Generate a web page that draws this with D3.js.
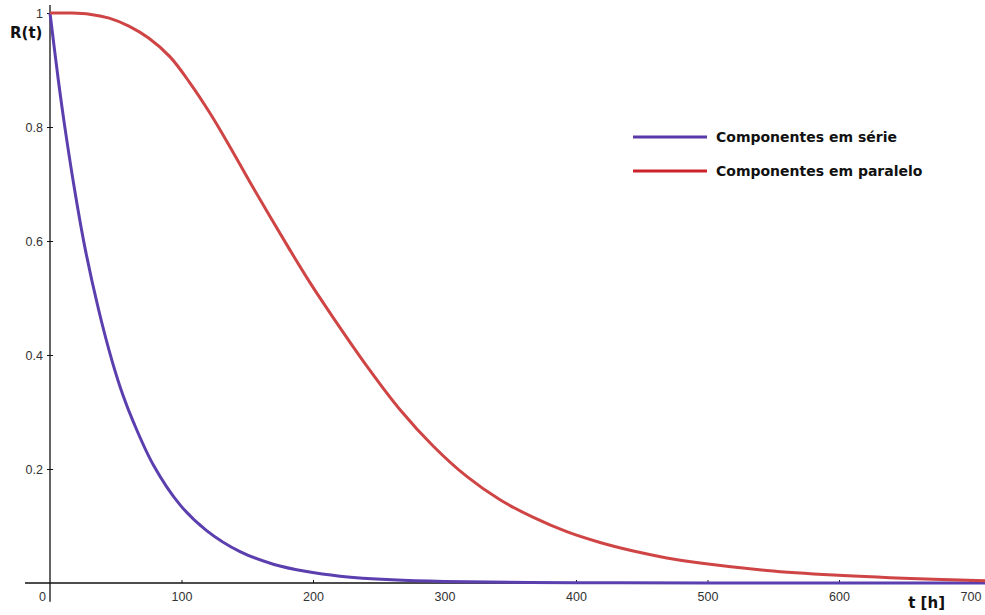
<!DOCTYPE html>
<meta charset='utf-8'>
<style>
  body { margin: 0; background: #fff; }
  .tick text { fill: #333; font-family: 'Liberation Sans', Arial, sans-serif; font-size: 12.5px; }
  .axisLabel { font-family: 'DejaVu Sans', sans-serif; font-weight: bold; font-size: 15px; fill: #111; }
  .legendText { font-family: 'DejaVu Sans', sans-serif; font-weight: bold; font-size: 14px; fill: #111; }
</style>
<body>
<div id='viz'></div>
<script src='https://d3js.org/d3.v7.min.js'></script>
<script>

// values
var serieT = [0, 6.3, 11.4, 19, 26.6, 36.7, 46.9, 55.7, 63.3, 78.6, 98.9, 119.1, 144.5, 169.8, 195.2, 220.5, 260, 300, 400, 500, 711];
var serieR = [1, 0.883, 0.798, 0.686, 0.588, 0.482, 0.392, 0.328, 0.283, 0.207, 0.137, 0.092, 0.055, 0.033, 0.020, 0.012, 0.0055, 0.0025, 0.0005, 0.0001, 0];

var paraleloT = [0, 15, 30, 45, 60, 75, 91.3, 106.5, 121.7, 136.9, 152.1, 167.3, 182.5, 197.7, 212.9, 240.8, 266.2, 291.5, 316.9, 342.2, 367.6, 392.9, 418.3, 443.6, 469, 494.3, 545, 595.7, 671.7, 711];
var paraleloR = [1, 1, 0.998, 0.991, 0.977, 0.956, 0.923, 0.877, 0.824, 0.765, 0.703, 0.643, 0.584, 0.527, 0.474, 0.381, 0.304, 0.240, 0.187, 0.146, 0.115, 0.090, 0.071, 0.056, 0.044, 0.035, 0.022, 0.014, 0.0065, 0.004];

var xTicks = [0, 100, 200, 300, 400, 500, 600, 700];
var yTicks = [0.2, 0.4, 0.6, 0.8, 1];
var seriesNames = ['Componentes em série', 'Componentes em paralelo'];
var seriesColors = ['#5b3fae', '#cf4444'];

var width = 985, height = 615;

var x = d3.scaleLinear().domain([0, 711]).range([50, 985]);
var y = d3.scaleLinear().domain([0, 1]).range([583, 13]);

var svg = d3.select('#viz').append('svg')
    .attr('width', width)
    .attr('height', height);

// axis lines (they run a bit past the origin)
svg.append('line')
    .attr('x1', x(-19)).attr('x2', x(711))
    .attr('y1', y(0)).attr('y2', y(0))
    .attr('stroke', '#111').attr('stroke-width', 1.3);
svg.append('line')
    .attr('x1', x(0)).attr('x2', x(0))
    .attr('y1', y(1.014)).attr('y2', y(-0.033))
    .attr('stroke', '#111').attr('stroke-width', 1.3);

// X axis
var gx = svg.append('g')
    .attr('transform', 'translate(0,' + y(0) + ')')
    .call(d3.axisBottom(x).tickValues(xTicks).tickSize(3).tickPadding(6).tickFormat(d3.format('d')));
gx.select('.domain').remove();
gx.selectAll('.tick line').attr('y1', -3).attr('y2', 0).attr('stroke', '#111');
gx.selectAll('.tick').filter(function(d) { return d === 0; }).select('line').remove();
gx.selectAll('.tick').filter(function(d) { return d === 0; }).select('text').attr('dx', -8);

// Y axis
var gy = svg.append('g')
    .attr('transform', 'translate(' + x(0) + ',0)')
    .call(d3.axisLeft(y).tickValues(yTicks).tickSize(3).tickPadding(4).tickFormat(function(d) { return d === 1 ? '1' : d3.format('.1f')(d); }));
gy.select('.domain').remove();
gy.selectAll('.tick line').attr('x1', -3).attr('x2', 3).attr('stroke', '#111');

// axis titles
svg.append('text').attr('class', 'axisLabel')
    .attr('x', 10).attr('y', 38).text('R(t)');
svg.append('text').attr('class', 'axisLabel')
    .attr('x', 945).attr('y', 608).attr('text-anchor', 'end').text('t [h]');

// curves
var line = d3.line()
    .x(function(d) { return x(d[0]); })
    .y(function(d) { return y(d[1]); })
    .curve(d3.curveCatmullRom.alpha(0.5));

var curves = [d3.zip(serieT, serieR), d3.zip(paraleloT, paraleloR)];

svg.selectAll('.curve')
    .data(curves)
    .enter().append('path')
    .attr('class', 'curve')
    .attr('d', line)
    .attr('fill', 'none')
    .attr('stroke', function(d, i) { return seriesColors[i]; })
    .attr('stroke-width', 3);

// legend
var legend = svg.selectAll('.legend')
    .data(seriesNames)
    .enter().append('g')
    .attr('transform', function(d, i) { return 'translate(633,' + (137 + i * 34) + ')'; });

legend.append('line')
    .attr('x1', 0).attr('x2', 74)
    .attr('stroke', function(d, i) { return i === 0 ? '#5a3aa8' : '#cc2229'; })
    .attr('stroke-width', 3);

legend.append('text').attr('class', 'legendText')
    .attr('x', 83).attr('y', 5)
    .text(function(d) { return d; });

</script>
</body>
